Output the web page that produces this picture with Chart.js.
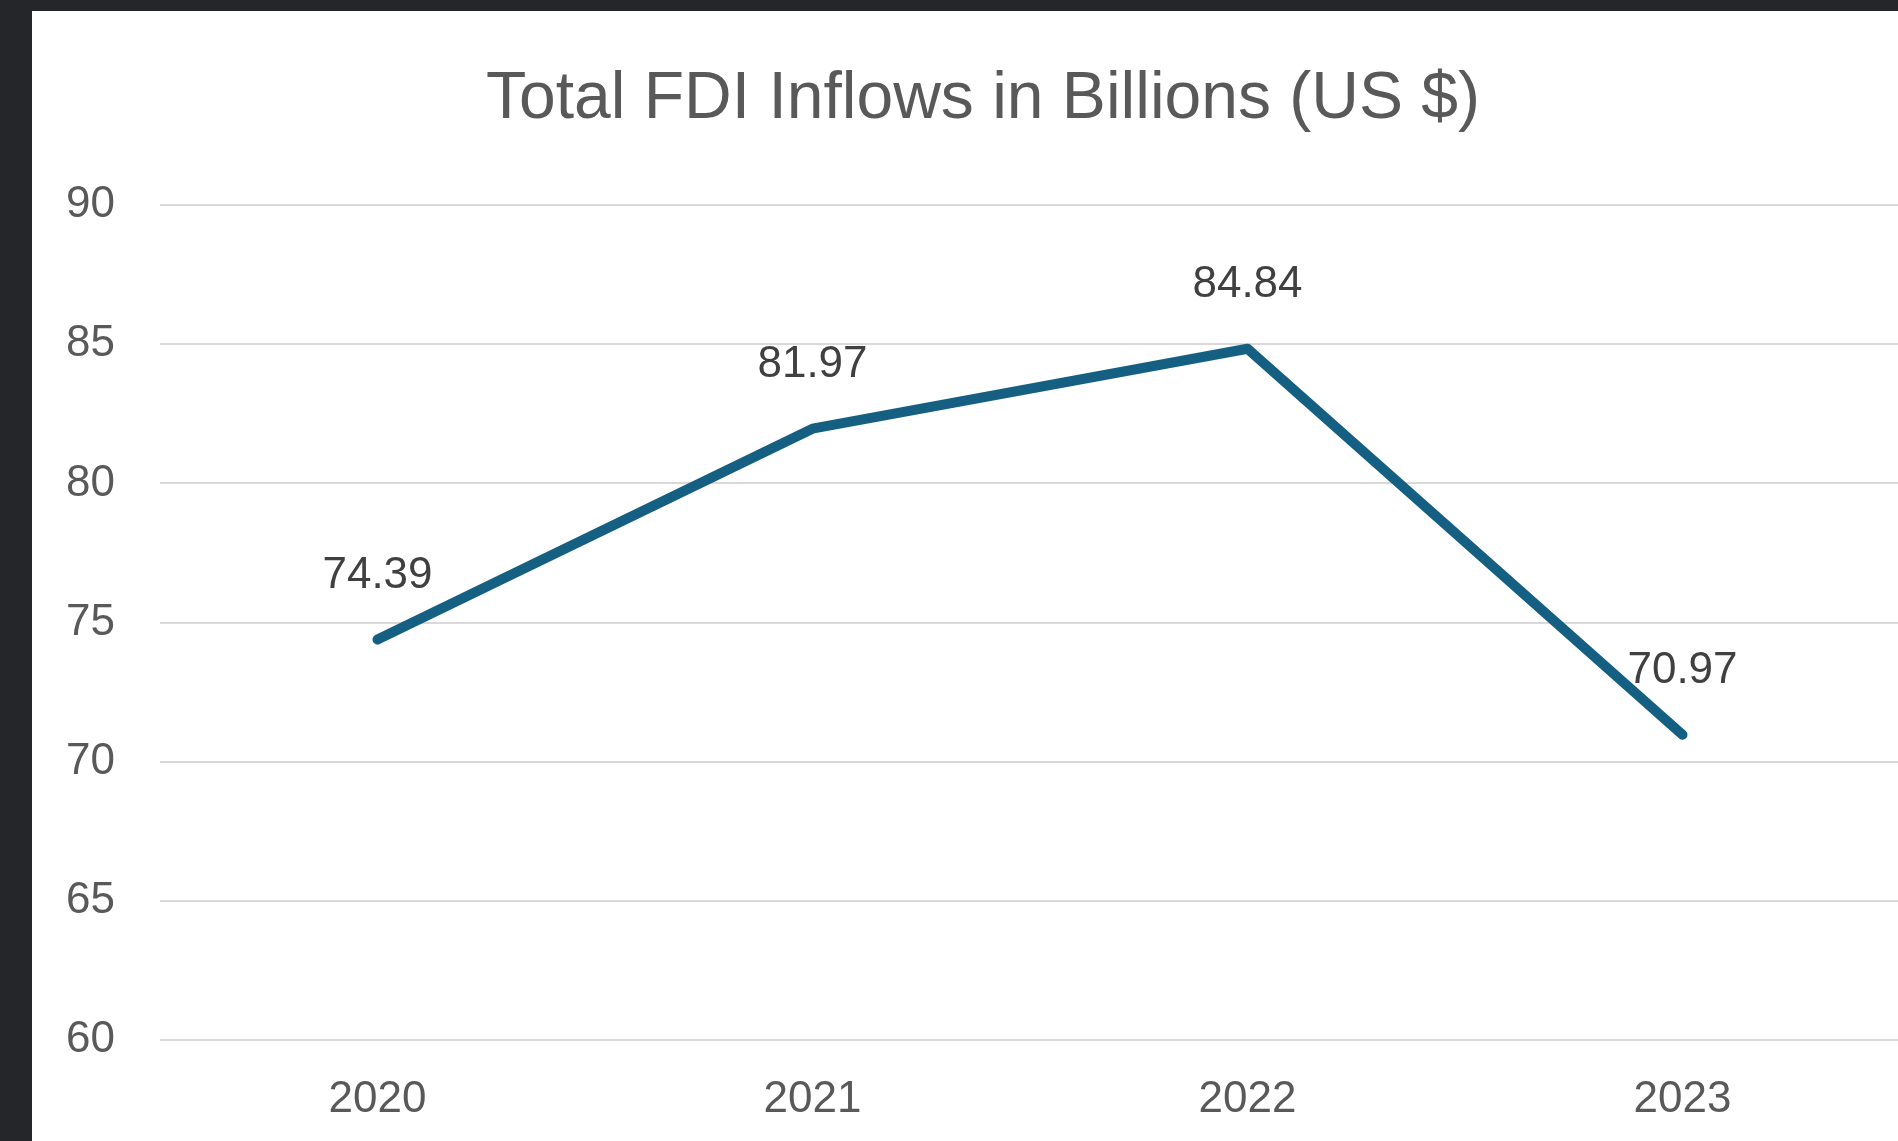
<!DOCTYPE html>
<html>
<head>
<meta charset="utf-8">
<title>Total FDI Inflows in Billions (US $)</title>
<script src="https://cdn.jsdelivr.net/npm/chart.js@4.4.1/dist/chart.umd.min.js"></script>
<style>
  html, body {
    margin: 0;
    padding: 0;
    width: 100%;
    height: 100%;
    overflow: hidden;
    background: #25262a;
  }
  #wrap {
    position: absolute;
    left: 32px;
    top: 11px;
    width: 1912px;
    height: 1130px;
    background: #ffffff;
  }
</style>
</head>
<body>
<div id="wrap"><canvas id="fdiChart"></canvas></div>
<script>
// yearly FDI inflows, billions of US dollars
const years = ["2020", "2021", "2022", "2023"];
const inflows = [74.39, 81.97, 84.84, 70.97];
const yTicks = [60, 65, 70, 75, 80, 85, 90];

const FONT = "'Liberation Sans', Arial, sans-serif";

// writes each value above its point on the line
const valueLabels = {
  id: "valueLabels",
  afterDatasetsDraw(chart) {
    const ctx = chart.ctx;
    const meta = chart.getDatasetMeta(0);
    ctx.save();
    ctx.font = "44px " + FONT;
    ctx.fillStyle = "#404040";
    ctx.textAlign = "center";
    ctx.textBaseline = "middle";
    meta.data.forEach((pt, i) => {
      ctx.fillText(inflows[i].toFixed(2), pt.x, pt.y - 64);
    });
    ctx.restore();
  }
};

const chart = new Chart(document.getElementById("fdiChart"), {
  type: "line",
  data: {
    labels: years,
    datasets: [{
      data: inflows,
      borderColor: "#156082",
      borderWidth: 10,
      borderCapStyle: "round",
      borderJoinStyle: "round",
      pointRadius: 0,
      pointHoverRadius: 0,
      tension: 0,
      fill: false
    }]
  },
  options: {
    responsive: true,
    maintainAspectRatio: false,
    animation: false,
    layout: {
      padding: { left: 34, right: 44, top: 0, bottom: 15 }
    },
    plugins: {
      legend: { display: false },
      tooltip: { enabled: false },
      title: {
        display: true,
        text: "Total FDI Inflows in Billions (US $)",
        color: "#595959",
        font: { family: FONT, size: 66, weight: "normal" },
        padding: { top: 49, bottom: 66 }
      }
    },
    scales: {
      x: {
        offset: true,
        border: { display: false },
        grid: { display: false, drawTicks: false },
        afterFit(axis) {
          axis.height = 86;
        },
        ticks: {
          color: "#595959",
          padding: 33,
          font: { family: FONT, size: 44 }
        }
      },
      y: {
        min: yTicks[0],
        max: yTicks[yTicks.length - 1],
        border: { display: false },
        grid: { color: "#d9d9d9", lineWidth: 2, drawTicks: false },
        afterBuildTicks(axis) {
          axis.ticks = yTicks.map(v => ({ value: v }));
        },
        afterFit(axis) {
          axis.width = 94;
        },
        ticks: {
          color: "#595959",
          padding: 45,
          font: { family: FONT, size: 44 }
        }
      }
    }
  },
  plugins: [valueLabels]
});
</script>
</body>
</html>
